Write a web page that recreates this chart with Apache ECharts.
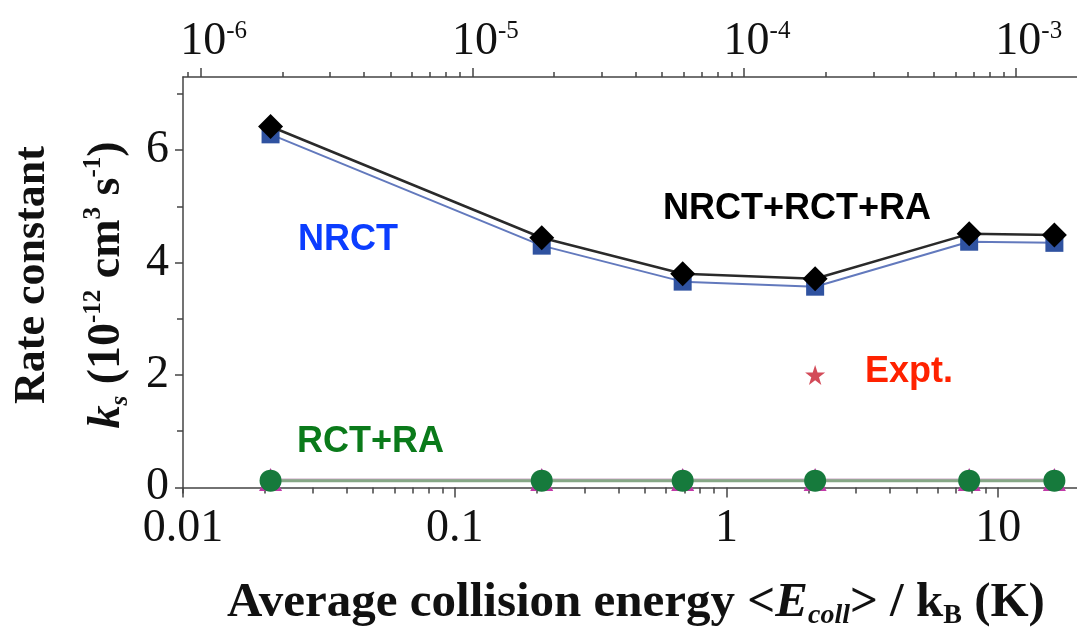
<!DOCTYPE html>
<html><head><meta charset="utf-8">
<script src="https://cdn.jsdelivr.net/npm/echarts@6/dist/echarts.min.js"></script>
<style>html,body{margin:0;padding:0;background:#fff}#c{width:1077px;height:630px}</style>
</head><body><div id="c"></div>
<script>
// ---- data ----
const energyK = [0.021, 0.209, 0.69, 2.12, 7.82, 16.1];
const totalRate = [6.42, 4.44, 3.80, 3.71, 4.51, 4.49];      // NRCT+RCT+RA (black diamonds)
const nrctRate = [6.28, 4.30, 3.66, 3.57, 4.37, 4.35];       // NRCT (blue squares)
const rctRaRate = [0.12, 0.12, 0.12, 0.12, 0.12, 0.12];      // RCT+RA (green circles)
const raRate = [0.14, 0.14, 0.14, 0.14, 0.14, 0.14];         // magenta triangles behind
const exptEnergyK = [2.12];
const exptRate = [2.0];
const bottomMajorTicks = [0.01, 0.1, 1, 10];
const topMajorTicks = [1e-6, 1e-5, 1e-4, 1e-3];
const yLabelTicks = [0, 2, 4, 6];
const yMinorTicks = [1, 3, 5, 7];
const K_TO_EV = 8.617e-5;
const xMin = 0.01, xMax = 19.5;
const yMin = -0.1, yMax = 7.3;

function minorLog(lo, hi) {
  const out = [];
  for (let d = Math.floor(Math.log10(lo)); d <= Math.ceil(Math.log10(hi)); d++) {
    for (let k = 2; k <= 9; k++) {
      const v = k * Math.pow(10, d);
      if (v >= lo && v <= hi) out.push(v);
    }
  }
  return out;
}

const axisColor = '#444';
const serif = '"Liberation Serif", "DejaVu Serif", serif';
const sans = '"Liberation Sans", Arial, sans-serif';

const chart = echarts.init(document.getElementById('c'), null, {renderer: 'canvas'});
const gridPos = {left: 183, right: 0, top: 77, bottom: 137, containLabel: false};

const option = {
  backgroundColor: '#fff',
  animation: false,
  grid: [Object.assign({}, gridPos), Object.assign({}, gridPos)],
  xAxis: [
    {
      type: 'log', gridIndex: 0, position: 'bottom', min: xMin, max: xMax, logBase: 10,
      axisLine: {show: true, lineStyle: {color: axisColor, width: 1.5}},
      axisTick: {show: true, customValues: bottomMajorTicks, inside: false, length: 10, lineStyle: {color: axisColor, width: 1.5}},
      axisLabel: {customValues: bottomMajorTicks, fontSize: 46, fontFamily: serif, color: '#111', margin: 13,
        formatter: v => String(+v.toPrecision(3))},
      splitLine: {show: false}, minorTick: {show: false}
    },
    {
      type: 'log', gridIndex: 0, position: 'top', min: xMin * K_TO_EV, max: xMax * K_TO_EV, logBase: 10,
      axisLine: {show: true, lineStyle: {color: axisColor, width: 1.5}},
      axisTick: {show: true, customValues: topMajorTicks, inside: false, length: 9, lineStyle: {color: axisColor, width: 1.5}},
      axisLabel: {customValues: topMajorTicks, margin: 12, padding: [0, 0, 0, 26],
        formatter: v => '{b|10}{s|' + Math.round(Math.log10(v)) + '}',
        rich: {
          b: {fontSize: 46, fontFamily: serif, color: '#111'},
          s: {fontSize: 25, fontFamily: serif, color: '#111', verticalAlign: 'top'}
        }},
      splitLine: {show: false}
    },
    {
      type: 'log', gridIndex: 1, position: 'bottom', min: xMin, max: xMax, logBase: 10,
      axisLine: {show: false},
      axisTick: {show: true, customValues: minorLog(xMin, xMax), inside: false, length: 6, lineStyle: {color: axisColor, width: 1.5}},
      axisLabel: {show: false}, splitLine: {show: false}
    },
    {
      type: 'log', gridIndex: 1, position: 'top', min: xMin * K_TO_EV, max: xMax * K_TO_EV, logBase: 10,
      axisLine: {show: false},
      axisTick: {show: true, customValues: minorLog(xMin * K_TO_EV, xMax * K_TO_EV), inside: false, length: 5, lineStyle: {color: axisColor, width: 1.5}},
      axisLabel: {show: false}, splitLine: {show: false}
    }
  ],
  yAxis: [
    {
      type: 'value', gridIndex: 0, position: 'left', min: yMin, max: yMax,
      axisLine: {show: true, lineStyle: {color: axisColor, width: 1.5}},
      axisTick: {show: true, customValues: yLabelTicks, inside: false, length: 8, lineStyle: {color: axisColor, width: 1.5}},
      axisLabel: {customValues: yLabelTicks, fontSize: 46, fontFamily: serif, color: '#111', margin: 14},
      splitLine: {show: false}
    },
    {
      type: 'value', gridIndex: 1, position: 'left', min: yMin, max: yMax,
      axisLine: {show: false},
      axisTick: {show: true, customValues: yMinorTicks, inside: false, length: 6, lineStyle: {color: axisColor, width: 1.5}},
      axisLabel: {show: false}, splitLine: {show: false}
    }
  ],
  series: [
    {
      name: 'RA', type: 'line', xAxisIndex: 0, yAxisIndex: 0,
      data: energyK.map((x, i) => [x, raRate[i]]),
      symbol: 'triangle', symbolSize: 23,
      lineStyle: {color: '#c9a3c4', width: 2},
      itemStyle: {color: '#c23aa8'}, z: 2
    },
    {
      name: 'RCT+RA', type: 'line', xAxisIndex: 0, yAxisIndex: 0,
      data: energyK.map((x, i) => [x, rctRaRate[i]]),
      symbol: 'circle', symbolSize: 22,
      lineStyle: {color: '#86a886', width: 3},
      itemStyle: {color: '#167a3c'}, z: 3
    },
    {
      name: 'NRCT', type: 'line', xAxisIndex: 0, yAxisIndex: 0,
      data: energyK.map((x, i) => [x, nrctRate[i]]),
      symbol: 'rect', symbolSize: 18,
      lineStyle: {color: '#6279bd', width: 2},
      itemStyle: {color: '#2f52a0'}, z: 4
    },
    {
      name: 'NRCT+RCT+RA', type: 'line', xAxisIndex: 0, yAxisIndex: 0,
      data: energyK.map((x, i) => [x, totalRate[i]]),
      symbol: 'diamond', symbolSize: 25,
      lineStyle: {color: '#2a2a2a', width: 2.5},
      itemStyle: {color: '#000'}, z: 5
    },
    {
      name: 'Expt.', type: 'scatter', xAxisIndex: 0, yAxisIndex: 0,
      data: exptEnergyK.map((x, i) => [x, exptRate[i]]),
      symbol: 'path://M50,0 L61.8,35.1 L98.9,35.1 L68.9,56.8 L80.3,91.9 L50,70.2 L19.7,91.9 L31.1,56.8 L1.1,35.1 L38.2,35.1 Z',
      symbolSize: 20, itemStyle: {color: '#c81e30'}, z: 6
    }
  ],
  graphic: [
    {type: 'text', x: 298, y: 240, style: {text: 'NRCT', fill: '#0b3dff', font: 'bold 36px ' + sans, align: 'left', verticalAlign: 'middle', textAlign: 'left', textVerticalAlign: 'middle'}},
    {type: 'text', x: 663, y: 209, style: {text: 'NRCT+RCT+RA', fill: '#000', font: 'bold 36px ' + sans, align: 'left', verticalAlign: 'middle', textAlign: 'left', textVerticalAlign: 'middle'}},
    {type: 'text', x: 865, y: 372, style: {text: 'Expt.', fill: '#ff2200', font: 'bold 36px ' + sans, align: 'left', verticalAlign: 'middle', textAlign: 'left', textVerticalAlign: 'middle'}},
    {type: 'text', x: 297, y: 442, style: {text: 'RCT+RA', fill: '#0a7a1a', font: 'bold 36px ' + sans, align: 'left', verticalAlign: 'middle', textAlign: 'left', textVerticalAlign: 'middle'}},
    {type: 'text', x: 33, y: 275, rotation: Math.PI / 2,
      style: {text: 'Rate constant', fill: '#111', font: 'bold 44px ' + serif, align: 'center', verticalAlign: 'middle', textAlign: 'center', textVerticalAlign: 'middle'}},
    {type: 'text', x: 107, y: 285, rotation: Math.PI / 2,
      style: {
        text: '{k|k}{ks|s}{n| (10}{sup|-12}{n| cm}{sup|3}{n| s}{sup|-1}{n|)}',
        align: 'center', verticalAlign: 'middle', textAlign: 'center', textVerticalAlign: 'middle',
        rich: {
          k: {fontSize: 46, fontFamily: serif, fontWeight: 'bold', fontStyle: 'italic', fill: '#111', color: '#111', lineHeight: 52},
          ks: {fontSize: 25, fontFamily: serif, fontWeight: 'bold', fontStyle: 'italic', fill: '#111', color: '#111', verticalAlign: 'bottom', lineHeight: 25},
          n: {fontSize: 46, fontFamily: serif, fontWeight: 'bold', fill: '#111', color: '#111', lineHeight: 52},
          sup: {fontSize: 25, fontFamily: serif, fontWeight: 'bold', fill: '#111', color: '#111', verticalAlign: 'top', lineHeight: 25}
        }
      }},
    {type: 'text', x: 636, y: 603,
      style: {
        text: '{b|Average collision energy <}{bi|E}{bis|coll}{b|> / k}{bs|B}{b| (K)}',
        align: 'center', verticalAlign: 'middle', textAlign: 'center', textVerticalAlign: 'middle',
        rich: {
          b: {fontSize: 49, fontFamily: serif, fontWeight: 'bold', fill: '#111', color: '#111', lineHeight: 54},
          bi: {fontSize: 49, fontFamily: serif, fontWeight: 'bold', fontStyle: 'italic', fill: '#111', color: '#111', lineHeight: 54},
          bis: {fontSize: 28, fontFamily: serif, fontWeight: 'bold', fontStyle: 'italic', fill: '#111', color: '#111', verticalAlign: 'bottom', lineHeight: 28},
          bs: {fontSize: 28, fontFamily: serif, fontWeight: 'bold', fill: '#111', color: '#111', verticalAlign: 'bottom', lineHeight: 28}
        }
      }}
  ]
};
chart.setOption(option);
</script>
</body></html>
